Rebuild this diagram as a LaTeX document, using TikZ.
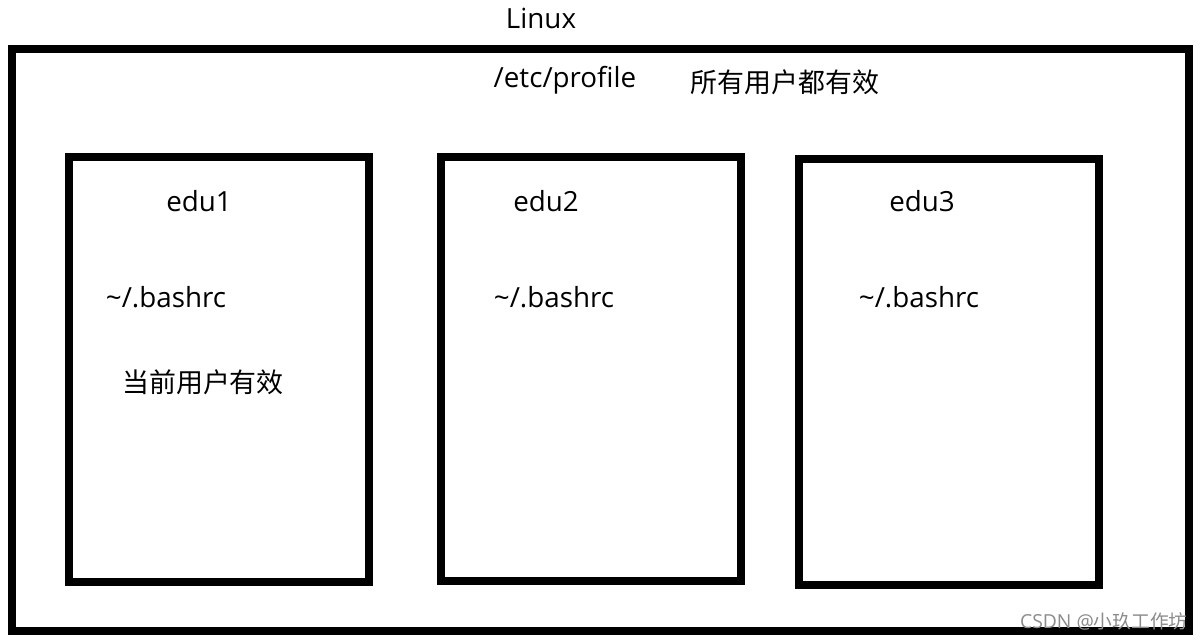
\documentclass[tikz,border=0pt]{standalone}
\usepackage{fontspec}
\setmainfont{Open Sans}
\newfontfamily\cjk{Noto Sans CJK SC}[Scale=0.97]
\begin{document}
\begin{tikzpicture}[x=0.02cm,y=-0.02cm]
{\fontsize{15.8pt}{19pt}\selectfont
\useasboundingbox (0,0) rectangle (1202,641);
\fill [white] (0,0) rectangle (1202,641);

\draw [black,line width=4.5pt] (12,49) rectangle (1189,631);
\draw [black,line width=4.5pt] (69,157) rectangle (369,582);
\draw [black,line width=4.5pt] (441,157) rectangle (741,581);
\draw [black,line width=4.5pt] (799,159) rectangle (1099,585);

\node (linux) at (541,18) {Linux};
\node (profile) at (565,80) {/etc/profile};
\node (all) at (785,82) {\cjk 所有用户都有效};

\node (edu1) at (199,201) {edu1};
\node (edu2) at (546,201) {edu2};
\node (edu3) at (922,201) {edu3};

\node (rc1) at (166,297) {\textasciitilde/.bashrc};
\node (rc2) at (554,297) {\textasciitilde/.bashrc};
\node (rc3) at (919,297) {\textasciitilde/.bashrc};

\node (cur) at (203,382) {\cjk 当前用户有效};

\node [anchor=east,inner sep=0pt,text=black!45,font=\fontsize{11pt}{13pt}\selectfont] (mark) at (1188,621) {CSDN @{\cjk 小玖工作坊}};
}
\end{tikzpicture}
\end{document}
